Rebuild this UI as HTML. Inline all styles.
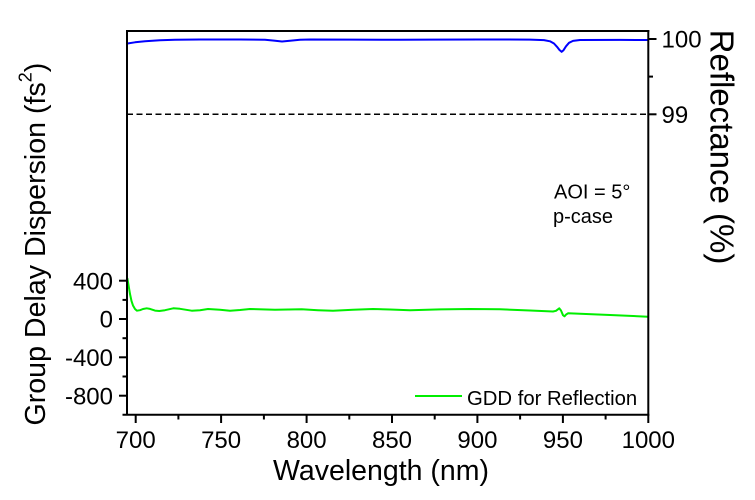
<!DOCTYPE html>
<html>
<head>
<meta charset="utf-8">
<style>
  html,body{margin:0;padding:0;background:#fff;}
  svg{display:block;}
  text{font-family:"Liberation Sans",Arial,sans-serif;fill:#000;}
</style>
</head>
<body>
<svg width="755" height="500" viewBox="0 0 755 500" xmlns="http://www.w3.org/2000/svg">
  <rect width="755" height="500" fill="#fff"/>

  <!-- dashed 99% line -->
  <line x1="127" y1="114.3" x2="648" y2="114.3" stroke="#000" stroke-width="1.5" stroke-dasharray="6,3.5"/>

  <!-- blue reflectance curve -->
  <polyline fill="none" stroke="#0000ff" stroke-width="2" stroke-linejoin="round"
    points="127.5,43.5 135,42.3 145,41.2 160,40.2 175,39.7 200,39.5 240,39.5 265,39.7 274,40.6 282,41.5 290,40.8 300,39.8 310,39.5 350,39.6 400,39.8 430,39.6 480,39.5 530,39.6 544,40.1 550,41.3 554,43.5 557,46.8 559.5,50 561.7,51.8 563.5,50.2 566,46.3 569,42.8 573,40.9 580,40 620,39.9 648,40"/>

  <!-- green GDD curve -->
  <polyline fill="none" stroke="#00ee00" stroke-width="2" stroke-linejoin="round"
    points="127.3,278 128.5,285 130,294 131.5,301 133,305.5 135,309 137,310.7 140,310.2 143,309 146.7,308.3 150,308.9 155,310.6 159.3,311 165,310.2 173.3,308.3 180,308.8 191.7,310.7 200,310.2 208,309 220,309.8 230,310.7 240,310 250,309 275,309.8 301.7,309.3 318,310.2 333,310.7 353,309.8 373,309 390,309.5 410,310.3 440,309.4 470,309 500,309.3 530,310.5 553,311.5 556,310.8 559.3,308.3 561,310.5 563,315.2 564.5,316.3 566,314.6 568,313.3 580,313.8 610,315 648,316.7"/>

  <!-- frame -->
  <line x1="127" y1="30" x2="127" y2="415.5" stroke="#000" stroke-width="2"/>
  <line x1="648.3" y1="30" x2="648.3" y2="415.5" stroke="#000" stroke-width="2"/>
  <line x1="126" y1="31" x2="649.3" y2="31" stroke="#000" stroke-width="2"/>
  <line x1="122.5" y1="414.7" x2="649.3" y2="414.7" stroke="#000" stroke-width="2"/>

  <!-- x ticks -->
  <g stroke="#000" stroke-width="2">
    <line x1="135.7" y1="414.7" x2="135.7" y2="423"/>
    <line x1="221.1" y1="414.7" x2="221.1" y2="423"/>
    <line x1="306.6" y1="414.7" x2="306.6" y2="423"/>
    <line x1="392.0" y1="414.7" x2="392.0" y2="423"/>
    <line x1="477.4" y1="414.7" x2="477.4" y2="423"/>
    <line x1="562.9" y1="414.7" x2="562.9" y2="423"/>
    <line x1="648.3" y1="414.7" x2="648.3" y2="423"/>
    <line x1="178.4" y1="414.7" x2="178.4" y2="419.5"/>
    <line x1="263.9" y1="414.7" x2="263.9" y2="419.5"/>
    <line x1="349.3" y1="414.7" x2="349.3" y2="419.5"/>
    <line x1="434.7" y1="414.7" x2="434.7" y2="419.5"/>
    <line x1="520.1" y1="414.7" x2="520.1" y2="419.5"/>
    <line x1="605.6" y1="414.7" x2="605.6" y2="419.5"/>
  </g>

  <!-- left ticks -->
  <g stroke="#000" stroke-width="2">
    <line x1="119" y1="280.7" x2="127" y2="280.7"/>
    <line x1="119" y1="319" x2="127" y2="319"/>
    <line x1="119" y1="357.3" x2="127" y2="357.3"/>
    <line x1="119" y1="395.7" x2="127" y2="395.7"/>
    <line x1="122.5" y1="299.9" x2="127" y2="299.9"/>
    <line x1="122.5" y1="338.2" x2="127" y2="338.2"/>
    <line x1="122.5" y1="376.5" x2="127" y2="376.5"/>
  </g>

  <!-- right ticks -->
  <g stroke="#000" stroke-width="2">
    <line x1="648.3" y1="39" x2="656.5" y2="39"/>
    <line x1="648.3" y1="114.3" x2="656.5" y2="114.3"/>
    <line x1="648.3" y1="76.6" x2="653" y2="76.6"/>
  </g>

  <!-- x tick labels -->
  <g font-size="24" text-anchor="middle">
    <text x="135.7" y="448">700</text>
    <text x="221.1" y="448">750</text>
    <text x="306.6" y="448">800</text>
    <text x="392.0" y="448">850</text>
    <text x="477.4" y="448">900</text>
    <text x="562.9" y="448">950</text>
    <text x="648.3" y="448">1000</text>
  </g>

  <!-- left tick labels -->
  <g font-size="24" text-anchor="end">
    <text x="113" y="289.3">400</text>
    <text x="113" y="327.6">0</text>
    <text x="113" y="365.9">-400</text>
    <text x="113" y="404.3">-800</text>
  </g>

  <!-- right tick labels -->
  <g font-size="24" text-anchor="start">
    <text x="661.5" y="47.6">100</text>
    <text x="661.5" y="122.9">99</text>
  </g>

  <!-- axis titles -->
  <text x="381" y="480" font-size="28.5" text-anchor="middle">Wavelength (nm)</text>

  <text transform="translate(45,425.5) rotate(-90)" font-size="28.6" text-anchor="start">Group Delay Dispersion (fs<tspan font-size="18" dy="-13.5">2</tspan><tspan dy="13.5">)</tspan></text>

  <text transform="translate(710.5,147) rotate(90)" font-size="33" text-anchor="middle">Reflectance (%)</text>

  <!-- annotation -->
  <text x="554" y="198.5" font-size="20">AOI = 5°</text>
  <text x="553" y="223" font-size="20">p-case</text>

  <!-- legend -->
  <line x1="415" y1="396" x2="462" y2="396" stroke="#00ee00" stroke-width="2"/>
  <text x="467" y="405" font-size="20.3">GDD for Reflection</text>
</svg>
</body>
</html>
